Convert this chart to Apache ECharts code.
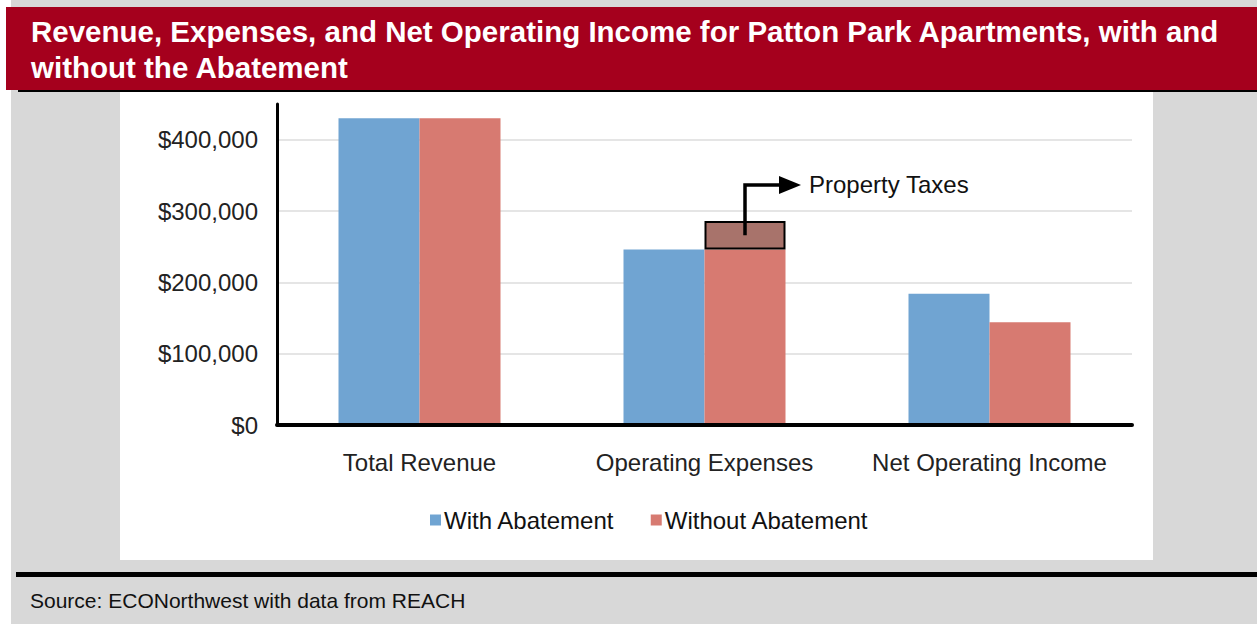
<!DOCTYPE html>
<html>
<head>
<meta charset="utf-8">
<script src="https://cdn.jsdelivr.net/npm/echarts@6/dist/echarts.min.js"></script>
<style>
html,body{margin:0;padding:0;background:#fff;}
#c{width:1257px;height:625px;}
</style>
</head>
<body>
<div id="c"></div>
<script>
const categories = ['Total Revenue', 'Operating Expenses', 'Net Operating Income'];
const withAbatement = [430000, 246000, 184000];
const withoutAbatementBase = [430000, 246000, 144000];
const propertyTaxes = ['-', 40000, '-'];
const yTicks = [0, 100000, 200000, 300000, 400000];
const titleText = 'Revenue, Expenses, and Net Operating Income for Patton Park Apartments, with and\nwithout the Abatement';
const sourceText = 'Source: ECONorthwest with data from REACH';
const annotationText = 'Property Taxes';

const FONT = '"Liberation Sans", Arial, Helvetica, sans-serif';
const chart = echarts.init(document.getElementById('c'), null, {renderer: 'svg'});

function fmt(v) {
  return '$' + v.toString().replace(/\B(?=(\d{3})+(?!\d))/g, ',');
}

const option = {
  animation: false,
  textStyle: {fontFamily: FONT},
  title: [
    {
      text: titleText,
      left: 26, top: 8,
      textStyle: {color: '#ffffff', fontSize: 29.5, fontWeight: 'bold', lineHeight: 36, fontFamily: FONT}
    },
    {
      text: sourceText,
      left: 25, top: 585,
      textStyle: {color: '#111111', fontSize: 21, fontWeight: 'normal', fontFamily: FONT}
    }
  ],
  graphic: [
    {type: 'rect', z: -10, silent: true, shape: {x: 11, y: 0, width: 1246, height: 624}, style: {fill: '#d8d8d8'}},
    {type: 'rect', z: -9, silent: true, shape: {x: 6, y: 7, width: 1251, height: 83}, style: {fill: '#a5001d'}},
    {type: 'rect', z: -9, silent: true, shape: {x: 18, y: 90, width: 1239, height: 2}, style: {fill: '#000000'}},
    {type: 'rect', z: -9, silent: true, shape: {x: 120, y: 92, width: 1033, height: 468}, style: {fill: '#ffffff'}},
    {type: 'rect', z: -9, silent: true, shape: {x: 16, y: 572, width: 1241, height: 5}, style: {fill: '#000000'}}
  ],
  legend: {
    data: ['With Abatement', 'Without Abatement'],
    left: 425, top: 503,
    itemWidth: 11, itemHeight: 11, itemGap: 36,
    icon: 'rect',
    textStyle: {fontSize: 24, color: '#111111', fontFamily: FONT, padding: [0, 0, 0, -2]}
  },
  grid: {left: 277, right: 125, top: 104, bottom: 200, containLabel: false},
  xAxis: {
    type: 'category',
    data: categories,
    axisLine: {lineStyle: {color: '#000000', width: 4}},
    axisTick: {show: false},
    axisLabel: {fontSize: 24, color: '#222222', margin: 25, fontFamily: FONT, interval: 0, hideOverlap: false},
    z: 5
  },
  yAxis: {
    type: 'value',
    min: 0, max: 450000, interval: 100000,
    axisLine: {show: true, lineStyle: {color: '#000000', width: 3}},
    axisTick: {show: false},
    axisLabel: {
      fontSize: 24, color: '#222222', margin: 19, fontFamily: FONT,
      showMaxLabel: false,
      formatter: function (v) { return yTicks.indexOf(v) >= 0 ? fmt(v) : ''; }
    },
    splitLine: {show: true, showMinLine: false, showMaxLine: false, lineStyle: {color: '#dddddd', width: 1.5}}
  },
  series: [
    {
      name: 'With Abatement', type: 'bar', stack: 'with',
      data: withAbatement, barWidth: 81, barGap: '0%',
      itemStyle: {color: '#70a4d2'}
    },
    {
      name: 'Without Abatement', type: 'bar', stack: 'without',
      data: withoutAbatementBase, barWidth: 81, barGap: '0%',
      itemStyle: {color: '#d77a71'}
    },
    {
      name: 'Property Taxes', type: 'bar', stack: 'without',
      data: propertyTaxes, barWidth: 81, barGap: '0%',
      itemStyle: {color: '#a8736b', borderColor: '#000000', borderWidth: 2}
    }
  ]
};
chart.setOption(option);

// Annotation arrow anchored to the property tax bar's layout
const idx = propertyTaxes.findIndex(v => v !== '-');
const layout = chart.getModel().getSeriesByIndex(2).getData().getItemLayout(idx);
if (layout) {
  const cx = layout.x + layout.width / 2;
  const topY = Math.min(layout.y, layout.y + layout.height);
  const cy = topY + Math.abs(layout.height) / 2;
  const elbowY = topY - 36;
  const lineEnd = cx + 36;
  chart.setOption({
    graphic: option.graphic.concat([
      {type: 'polyline', z: 20, silent: true,
        shape: {points: [[cx, cy], [cx, elbowY], [lineEnd, elbowY]]},
        style: {stroke: '#000000', lineWidth: 3.5, fill: null}},
      {type: 'polygon', z: 20, silent: true,
        shape: {points: [[lineEnd - 2, elbowY - 9], [lineEnd + 20, elbowY], [lineEnd - 2, elbowY + 9]]},
        style: {fill: '#000000'}},
      {type: 'text', z: 20, silent: true,
        style: {x: lineEnd + 28, y: elbowY, text: annotationText, fontSize: 24, fill: '#111111',
          fontFamily: FONT, textVerticalAlign: 'middle', verticalAlign: 'middle'}}
    ])
  });
}
</script>
</body>
</html>
